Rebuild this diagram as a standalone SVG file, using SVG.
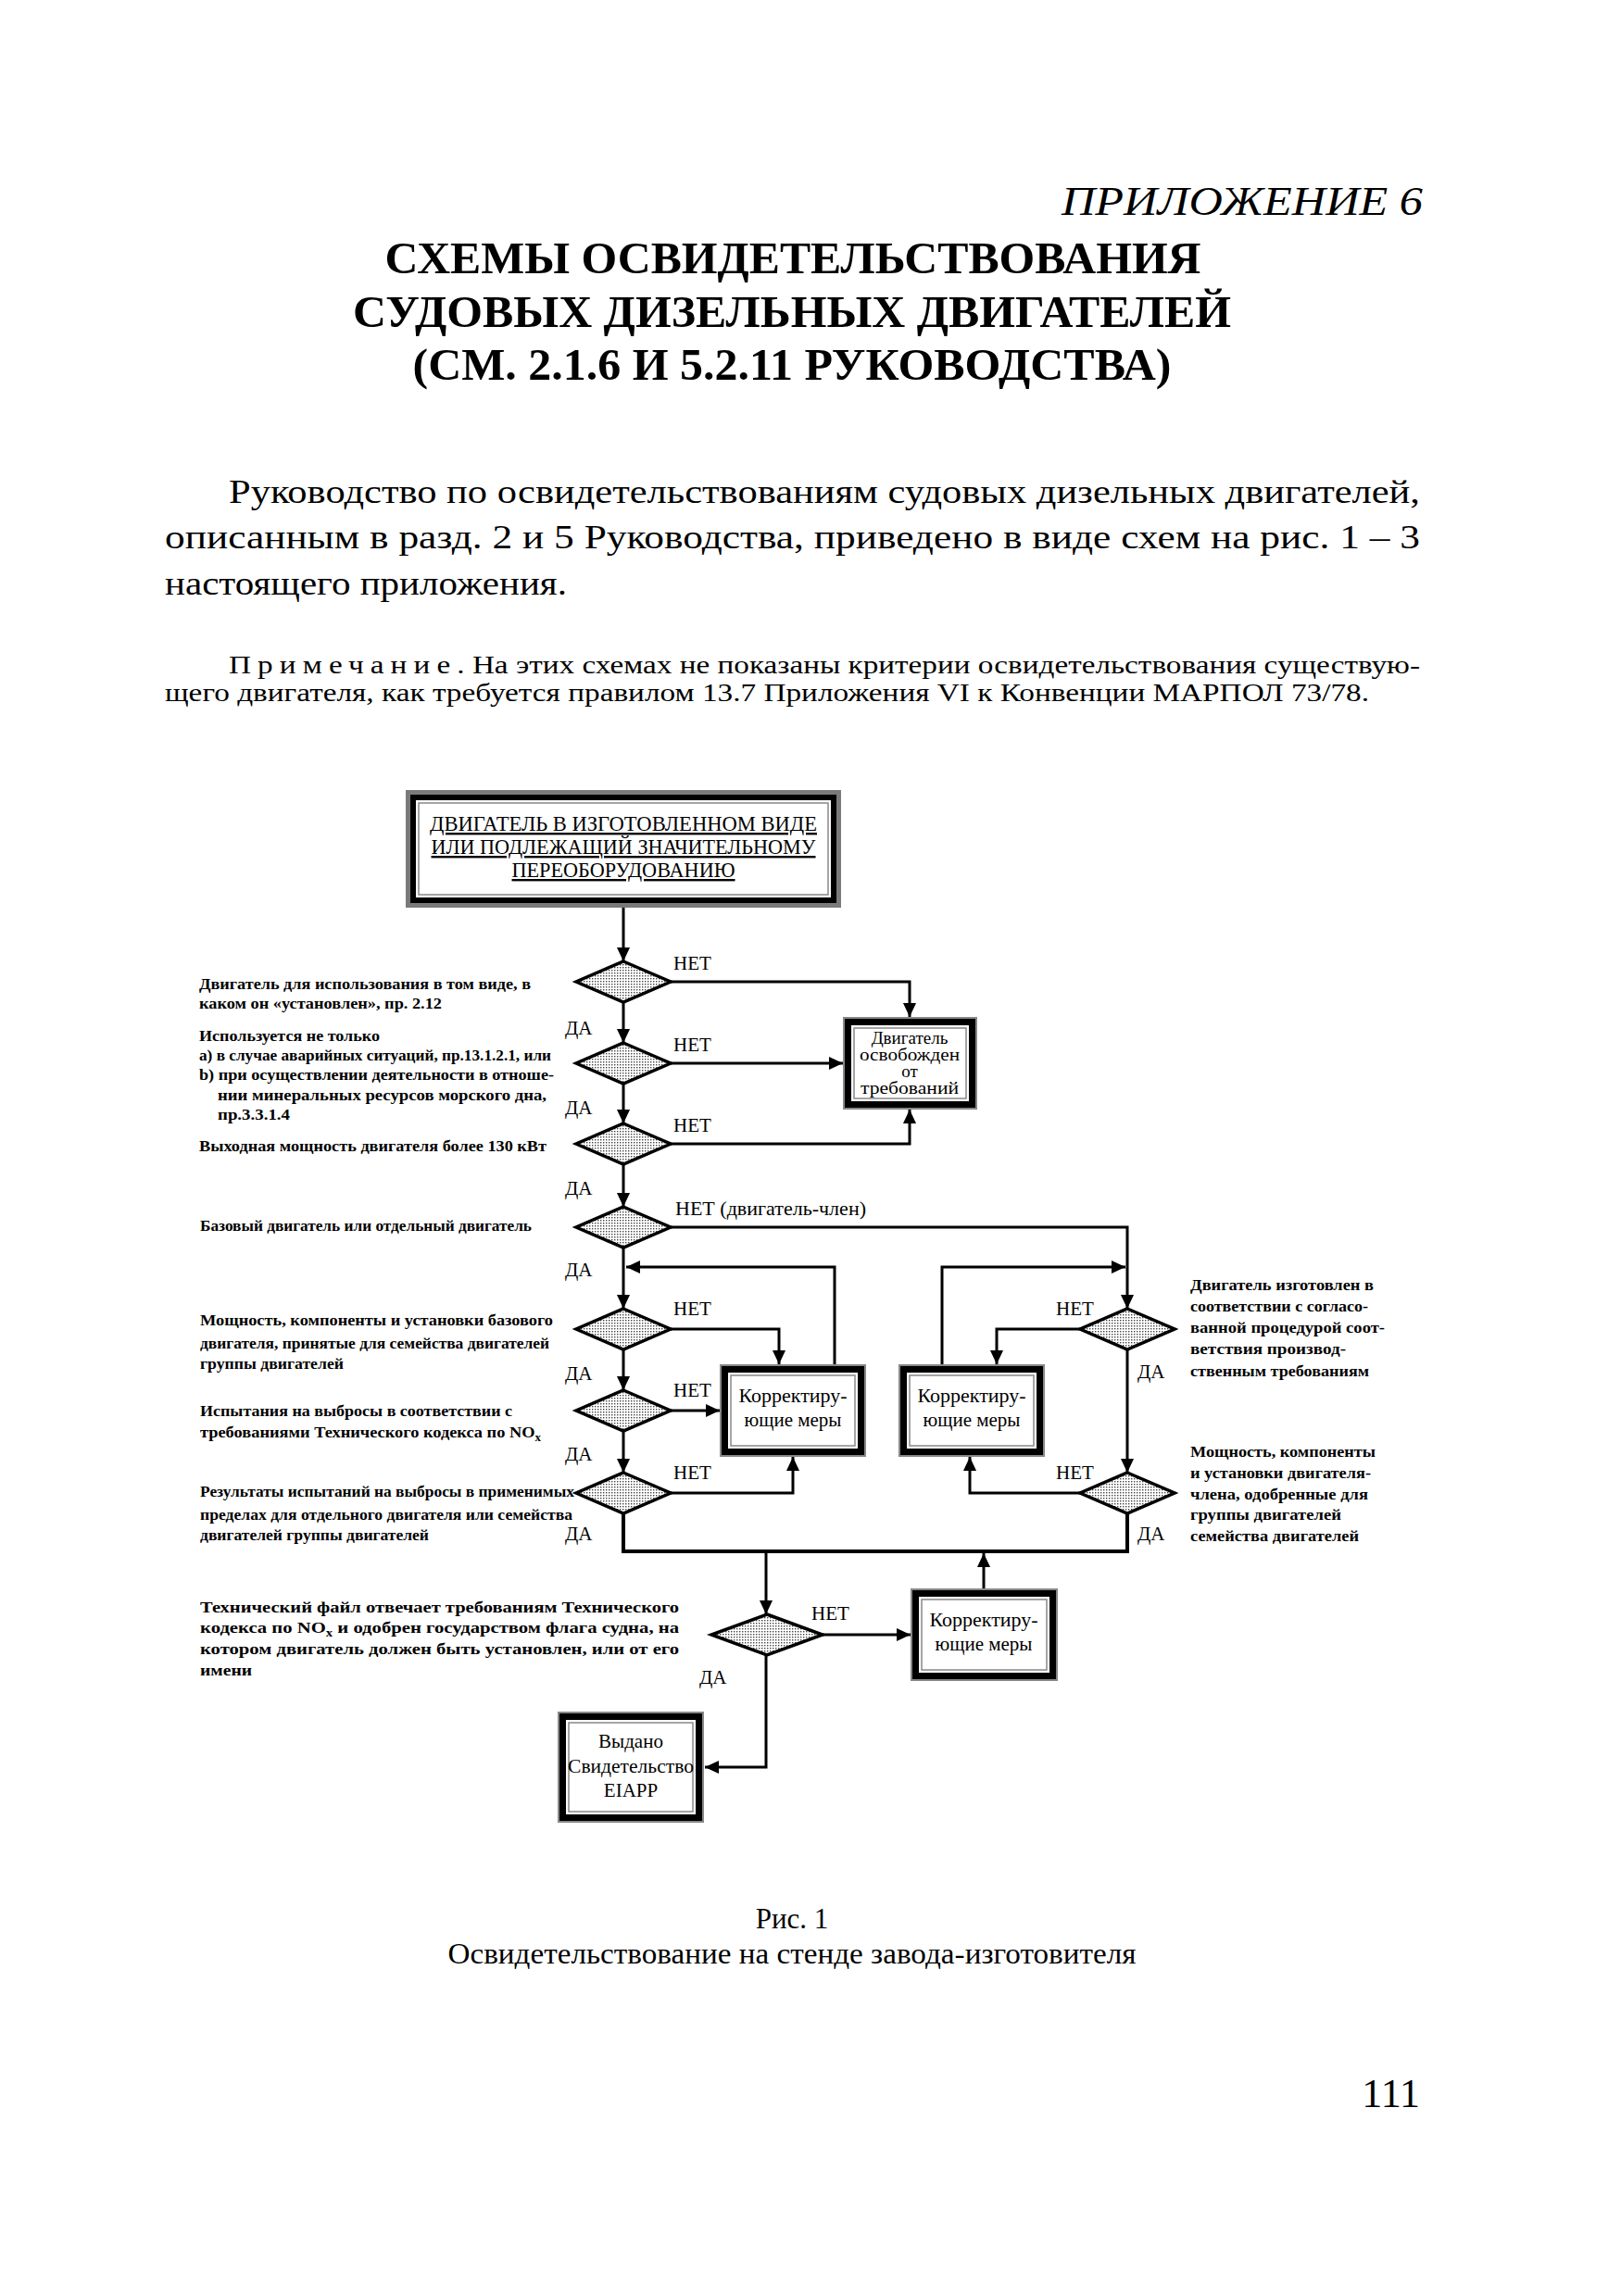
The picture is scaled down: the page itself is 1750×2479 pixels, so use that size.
<svg xmlns="http://www.w3.org/2000/svg" width="1750" height="2479" viewBox="0 0 1750 2479">
<style>
text{font-family:"Liberation Serif","Times New Roman",serif;fill:#000}
.title{font-size:48px;font-weight:bold}
.body{font-size:36px}
.note{font-size:28px}
.lbl{font-size:17px;font-weight:bold}
.rl{font-size:16px;font-weight:bold}
.yn{font-size:21px}
.bx{font-size:21px}
.conn{stroke:#000;stroke-width:3;fill:none}
.thick{stroke-width:4}
.dia{fill:url(#dots);stroke:#000;stroke-width:3.5;stroke-linejoin:miter}
.fo{fill:#fff;stroke:#888;stroke-width:2}
.fb{fill:none;stroke:#000;stroke-width:7}
.fi{fill:none;stroke:#888;stroke-width:1.5}
</style>
<defs>
<pattern id="dots" width="3" height="3" patternUnits="userSpaceOnUse">
<rect width="3" height="3" fill="#fff"/>
<rect width="1.4" height="1.4" fill="#444"/>
</pattern>
<marker id="ah" markerUnits="userSpaceOnUse" markerWidth="15" markerHeight="14" refX="15" refY="7" orient="auto">
<path d="M0,0 L15,7 L0,14 z" fill="#000"/>
</marker>
</defs>
<rect width="1750" height="2479" fill="#fff"/>

<g id="page-text">
<text x="1536" y="232" font-size="44" font-style="italic" text-anchor="end" textLength="390" lengthAdjust="spacingAndGlyphs">ПРИЛОЖЕНИЕ 6</text>
<text class="title" x="856" y="295" text-anchor="middle" textLength="881" lengthAdjust="spacingAndGlyphs">СХЕМЫ ОСВИДЕТЕЛЬСТВОВАНИЯ</text>
<text class="title" x="855" y="353" text-anchor="middle" textLength="948" lengthAdjust="spacingAndGlyphs">СУДОВЫХ ДИЗЕЛЬНЫХ ДВИГАТЕЛЕЙ</text>
<text class="title" x="855" y="410" text-anchor="middle" textLength="819" lengthAdjust="spacingAndGlyphs">(СМ. 2.1.6 И 5.2.11 РУКОВОДСТВА)</text>
<text class="body" x="247" y="543" textLength="1286" lengthAdjust="spacingAndGlyphs">Руководство по освидетельствованиям судовых дизельных двигателей,</text>
<text class="body" x="178" y="592" textLength="1355" lengthAdjust="spacingAndGlyphs">описанным в разд. 2 и 5 Руководства, приведено в виде схем на рис. 1 – 3</text>
<text class="body" x="178" y="642" textLength="434" lengthAdjust="spacingAndGlyphs">настоящего приложения.</text>
<text class="note" x="247" y="727" textLength="1286" lengthAdjust="spacingAndGlyphs"><tspan letter-spacing="6">Примечание</tspan>. На этих схемах не показаны критерии освидетельствования существую-</text>
<text class="note" x="178" y="757" textLength="1300" lengthAdjust="spacingAndGlyphs">щего двигателя, как требуется правилом 13.7 Приложения VI к Конвенции МАРПОЛ 73/78.</text>
<text x="855" y="2082" font-size="31" text-anchor="middle">Рис. 1</text>
<text x="855" y="2120" font-size="31" text-anchor="middle" textLength="743" lengthAdjust="spacingAndGlyphs">Освидетельствование на стенде завода-изготовителя</text>
<text x="1533" y="2275" font-size="44" text-anchor="end">111</text>
</g>

<g id="annotations">
<text class="lbl" x="215" y="1068" textLength="358" lengthAdjust="spacingAndGlyphs">Двигатель для использования в том виде, в</text>
<text class="lbl" x="215" y="1089" textLength="262" lengthAdjust="spacingAndGlyphs">каком он «установлен», пр. 2.12</text>
<text class="lbl" x="215" y="1124" textLength="195" lengthAdjust="spacingAndGlyphs">Используется не только</text>
<text class="lbl" x="215" y="1145" textLength="380" lengthAdjust="spacingAndGlyphs">a) в случае аварийных ситуаций, пр.13.1.2.1, или</text>
<text class="lbl" x="215" y="1166" textLength="383" lengthAdjust="spacingAndGlyphs">b) при осуществлении деятельности в отноше-</text>
<text class="lbl" x="235" y="1188" textLength="355" lengthAdjust="spacingAndGlyphs">нии минеральных ресурсов морского дна,</text>
<text class="lbl" x="235" y="1209" textLength="78" lengthAdjust="spacingAndGlyphs">пр.3.3.1.4</text>
<text class="lbl" x="215" y="1243" textLength="375" lengthAdjust="spacingAndGlyphs">Выходная мощность двигателя более 130 кВт</text>
<text class="lbl" x="216" y="1329" textLength="358" lengthAdjust="spacingAndGlyphs">Базовый двигатель или отдельный двигатель</text>
<text class="lbl" x="216" y="1431" textLength="381" lengthAdjust="spacingAndGlyphs">Мощность, компоненты и установки базового</text>
<text class="lbl" x="216" y="1456" textLength="377" lengthAdjust="spacingAndGlyphs">двигателя, принятые для семейства двигателей</text>
<text class="lbl" x="216" y="1478" textLength="155" lengthAdjust="spacingAndGlyphs">группы двигателей</text>
<text class="lbl" x="216" y="1529" textLength="337" lengthAdjust="spacingAndGlyphs">Испытания на выбросы в соответствии с</text>
<text class="lbl" x="216" y="1552" textLength="368" lengthAdjust="spacingAndGlyphs">требованиями Технического кодекса по NO<tspan font-size="12" dy="4">x</tspan></text>
<text class="lbl" x="216" y="1616" textLength="404" lengthAdjust="spacingAndGlyphs">Результаты испытаний на выбросы в применимых</text>
<text class="lbl" x="216" y="1641" textLength="402" lengthAdjust="spacingAndGlyphs">пределах для отдельного двигателя или семейства</text>
<text class="lbl" x="216" y="1663" textLength="247" lengthAdjust="spacingAndGlyphs">двигателей группы двигателей</text>
<text class="lbl" x="216" y="1741" textLength="517" lengthAdjust="spacingAndGlyphs">Технический файл отвечает требованиям Технического</text>
<text class="lbl" x="216" y="1763" textLength="517" lengthAdjust="spacingAndGlyphs">кодекса по NO<tspan font-size="12" dy="4">x</tspan><tspan dy="-4"> и одобрен государством флага судна, на</tspan></text>
<text class="lbl" x="216" y="1786" textLength="517" lengthAdjust="spacingAndGlyphs">котором двигатель должен быть установлен, или от его</text>
<text class="lbl" x="216" y="1809" textLength="56" lengthAdjust="spacingAndGlyphs">имени</text>
<text class="rl" x="1285" y="1393" textLength="198" lengthAdjust="spacingAndGlyphs">Двигатель изготовлен в</text>
<text class="rl" x="1285" y="1416" textLength="192" lengthAdjust="spacingAndGlyphs">соответствии с согласо-</text>
<text class="rl" x="1285" y="1439" textLength="210" lengthAdjust="spacingAndGlyphs">ванной процедурой соот-</text>
<text class="rl" x="1285" y="1462" textLength="168" lengthAdjust="spacingAndGlyphs">ветствия производ-</text>
<text class="rl" x="1285" y="1486" textLength="193" lengthAdjust="spacingAndGlyphs">ственным требованиям</text>
<text class="rl" x="1285" y="1573" textLength="200" lengthAdjust="spacingAndGlyphs">Мощность, компоненты</text>
<text class="rl" x="1285" y="1596" textLength="195" lengthAdjust="spacingAndGlyphs">и установки двигателя-</text>
<text class="rl" x="1285" y="1619" textLength="192" lengthAdjust="spacingAndGlyphs">члена, одобренные для</text>
<text class="rl" x="1285" y="1641" textLength="163" lengthAdjust="spacingAndGlyphs">группы двигателей</text>
<text class="rl" x="1285" y="1664" textLength="182" lengthAdjust="spacingAndGlyphs">семейства двигателей</text>
</g>

<g id="connectors">
<path class="conn" d="M673,980 V1038" marker-end="url(#ah)"/>
<path class="conn" d="M673,1082 V1126" marker-end="url(#ah)"/>
<path class="conn" d="M673,1170 V1213" marker-end="url(#ah)"/>
<path class="conn" d="M673,1257 V1303" marker-end="url(#ah)"/>
<path class="conn" d="M673,1347 V1413" marker-end="url(#ah)"/>
<path class="conn" d="M673,1457 V1501" marker-end="url(#ah)"/>
<path class="conn" d="M673,1545 V1590" marker-end="url(#ah)"/>
<path class="conn thick" d="M673,1634 V1675 H1217 V1634"/>
<path class="conn" d="M827,1675 V1743" marker-end="url(#ah)"/>
<path class="conn" d="M827,1787 V1908 H761" marker-end="url(#ah)"/>
<path class="conn" d="M888,1765 H983" marker-end="url(#ah)"/>
<path class="conn" d="M1062,1715 V1677" marker-end="url(#ah)"/>
<path class="conn" d="M724,1060 H982 V1098" marker-end="url(#ah)"/>
<path class="conn" d="M724,1148 H910" marker-end="url(#ah)"/>
<path class="conn" d="M724,1235 H982 V1198" marker-end="url(#ah)"/>
<path class="conn" d="M724,1325 H1217 V1413" marker-end="url(#ah)"/>
<path class="conn" d="M901,1473 V1368 H676" marker-end="url(#ah)"/>
<path class="conn" d="M1017,1473 V1368 H1215" marker-end="url(#ah)"/>
<path class="conn" d="M724,1435 H841 V1473" marker-end="url(#ah)"/>
<path class="conn" d="M724,1523 H777" marker-end="url(#ah)"/>
<path class="conn" d="M724,1612 H856 V1573" marker-end="url(#ah)"/>
<path class="conn" d="M1166,1435 H1076 V1473" marker-end="url(#ah)"/>
<path class="conn" d="M1217,1457 V1590" marker-end="url(#ah)"/>
<path class="conn" d="M1166,1612 H1047 V1573" marker-end="url(#ah)"/>
<text class="yn" x="727" y="1047">НЕТ</text>
<text class="yn" x="727" y="1135">НЕТ</text>
<text class="yn" x="727" y="1222">НЕТ</text>
<text class="yn" x="729" y="1312" textLength="206" lengthAdjust="spacingAndGlyphs">НЕТ (двигатель-член)</text>
<text class="yn" x="727" y="1420">НЕТ</text>
<text class="yn" x="727" y="1508">НЕТ</text>
<text class="yn" x="727" y="1597">НЕТ</text>
<text class="yn" x="1140" y="1420">НЕТ</text>
<text class="yn" x="1140" y="1597">НЕТ</text>
<text class="yn" x="876" y="1749">НЕТ</text>
<text class="yn" x="610" y="1117">ДА</text>
<text class="yn" x="610" y="1203">ДА</text>
<text class="yn" x="610" y="1290">ДА</text>
<text class="yn" x="610" y="1378">ДА</text>
<text class="yn" x="610" y="1490">ДА</text>
<text class="yn" x="610" y="1577">ДА</text>
<text class="yn" x="610" y="1663">ДА</text>
<text class="yn" x="1228" y="1488">ДА</text>
<text class="yn" x="1228" y="1663">ДА</text>
<text class="yn" x="755" y="1818">ДА</text>
</g>

<g id="start">
<rect x="440.5" y="855.5" width="465" height="122" fill="#fff" stroke="#7a7a7a" stroke-width="5"/>
<rect x="446" y="861" width="454" height="111" fill="none" stroke="#000" stroke-width="6"/>
<rect x="452" y="867" width="442" height="99" fill="none" stroke="#888" stroke-width="1.5"/>
<text x="673" y="897" font-size="24" text-anchor="middle" text-decoration="underline" textLength="418" lengthAdjust="spacingAndGlyphs">ДВИГАТЕЛЬ В ИЗГОТОВЛЕННОМ ВИДЕ</text>
<text x="673" y="922" font-size="24" text-anchor="middle" text-decoration="underline" textLength="415" lengthAdjust="spacingAndGlyphs">ИЛИ ПОДЛЕЖАЩИЙ ЗНАЧИТЕЛЬНОМУ</text>
<text x="673" y="947" font-size="24" text-anchor="middle" text-decoration="underline" textLength="241" lengthAdjust="spacingAndGlyphs">ПЕРЕОБОРУДОВАНИЮ</text>
</g>

<g id="d1"><polygon class="dia" points="673,1038 724,1060 673,1082 622,1060"/></g>
<g id="d2"><polygon class="dia" points="673,1126 724,1148 673,1170 622,1148"/></g>
<g id="d3"><polygon class="dia" points="673,1213 724,1235 673,1257 622,1235"/></g>
<g id="d4"><polygon class="dia" points="673,1303 724,1325 673,1347 622,1325"/></g>
<g id="d5"><polygon class="dia" points="673,1413 724,1435 673,1457 622,1435"/></g>
<g id="d6"><polygon class="dia" points="673,1501 724,1523 673,1545 622,1523"/></g>
<g id="d7"><polygon class="dia" points="673,1590 724,1612 673,1634 622,1612"/></g>
<g id="d8"><polygon class="dia" points="1217,1413 1268,1435 1217,1457 1166,1435"/></g>
<g id="d9"><polygon class="dia" points="1217,1590 1268,1612 1217,1634 1166,1612"/></g>
<g id="d10"><polygon class="dia" points="828,1743 888,1765 828,1787 768,1765"/></g>

<g id="exempt">
<rect class="fo" x="911" y="1099" width="143" height="98"/>
<rect class="fb" x="915.5" y="1103.5" width="134" height="89"/>
<rect class="fi" x="922" y="1110" width="121" height="76"/>
<text x="982" y="1127" font-size="19" text-anchor="middle">Двигатель</text>
<text x="982" y="1145" font-size="19" text-anchor="middle" textLength="108" lengthAdjust="spacingAndGlyphs">освобожден</text>
<text x="982" y="1163" font-size="19" text-anchor="middle">от</text>
<text x="982" y="1181" font-size="19" text-anchor="middle" textLength="106" lengthAdjust="spacingAndGlyphs">требований</text>
</g>

<g id="corr1">
<rect class="fo" x="778" y="1474" width="156" height="98"/>
<rect class="fb" x="782.5" y="1478.5" width="147" height="89"/>
<rect class="fi" x="789" y="1485" width="134" height="76"/>
<text class="bx" x="856" y="1514" text-anchor="middle" textLength="117" lengthAdjust="spacingAndGlyphs">Корректиру-</text>
<text class="bx" x="856" y="1540" text-anchor="middle">ющие меры</text>
</g>

<g id="corr2">
<rect class="fo" x="971" y="1474" width="156" height="98"/>
<rect class="fb" x="975.5" y="1478.5" width="147" height="89"/>
<rect class="fi" x="982" y="1485" width="134" height="76"/>
<text class="bx" x="1049" y="1514" text-anchor="middle" textLength="117" lengthAdjust="spacingAndGlyphs">Корректиру-</text>
<text class="bx" x="1049" y="1540" text-anchor="middle">ющие меры</text>
</g>

<g id="corr3">
<rect class="fo" x="984" y="1716" width="157" height="98"/>
<rect class="fb" x="988.5" y="1720.5" width="148" height="89"/>
<rect class="fi" x="995" y="1727" width="135" height="76"/>
<text class="bx" x="1062" y="1756" text-anchor="middle" textLength="117" lengthAdjust="spacingAndGlyphs">Корректиру-</text>
<text class="bx" x="1062" y="1782" text-anchor="middle">ющие меры</text>
</g>

<g id="certificate">
<rect class="fo" x="603" y="1849" width="156" height="118"/>
<rect class="fb" x="607.5" y="1853.5" width="147" height="109"/>
<rect class="fi" x="614" y="1860" width="134" height="96"/>
<text class="bx" x="681" y="1887" text-anchor="middle">Выдано</text>
<text class="bx" x="681" y="1914" text-anchor="middle" textLength="136" lengthAdjust="spacingAndGlyphs">Свидетельство</text>
<text class="bx" x="681" y="1940" text-anchor="middle">EIAPP</text>
</g>
</svg>
